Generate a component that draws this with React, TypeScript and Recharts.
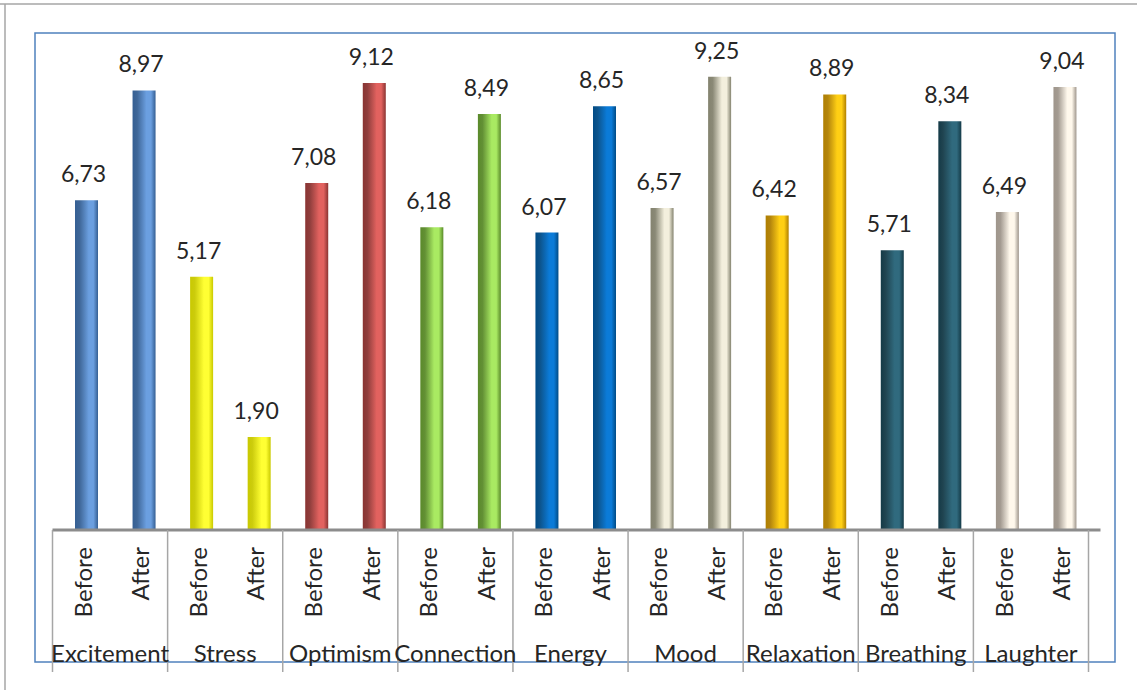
import React from 'react';
import { BarChart, Bar, XAxis, YAxis, Cell, LabelList } from 'recharts';

const groups = ['Excitement', 'Stress', 'Optimism', 'Connection', 'Energy', 'Mood', 'Relaxation', 'Breathing', 'Laughter'];
const phases = ['Before', 'After'];
const beforeValues = [6.73, 5.17, 7.08, 6.18, 6.07, 6.57, 6.42, 5.71, 6.49];
const afterValues = [8.97, 1.9, 9.12, 8.49, 8.65, 9.25, 8.89, 8.34, 9.04];

// per-group colour ramps: [dark edge, light centre]
const groupColors: [string, string][] = [
  ['#355f93', '#6b9fe0'],
  ['#c9c900', '#ffff33'],
  ['#8a3432', '#e2625f'],
  ['#5a8a2a', '#a9ea62'],
  ['#004b86', '#0b7bd8'],
  ['#84836f', '#f3efdd'],
  ['#b07f00', '#ffcf14'],
  ['#143a47', '#306a7e'],
  ['#9f968c', '#fff8ec'],
];

const data = groups.flatMap((g, gi) => [
  { key: `${g}-${phases[0]}`, group: g, phase: phases[0], value: beforeValues[gi], gi },
  { key: `${g}-${phases[1]}`, group: g, phase: phases[1], value: afterValues[gi], gi },
]);

const FONT = 'Lato, "Open Sans", sans-serif';
const TEXT = '#262626';
const SEP = '#a6a6a6';
const SHIFT = -5.5;

const PhaseTick = (props: any) => {
  const { x, y, payload, index } = props;
  const half = payload && typeof payload.offset === 'number' && payload.offset > 0 ? payload.offset : 28.8;
  const row = data[index];
  const els: React.ReactNode[] = [];
  if (index === 0) {
    els.push(
      <line key="axis" x1={x - half + SHIFT} x2={x - half + SHIFT + data.length * 2 * half + 12} y1={y} y2={y} stroke="#8c8c8c" strokeWidth={3} />
    );
  }
  if (index % 2 === 0) {
    els.push(<line key="sep" x1={x - half + SHIFT} x2={x - half + SHIFT} y1={y} y2={y + 142} stroke={SEP} strokeWidth={1.5} />);
  }
  if (index === data.length - 1) {
    els.push(<line key="sepEnd" x1={x + half + SHIFT} x2={x + half + SHIFT} y1={y} y2={y + 142} stroke={SEP} strokeWidth={1.5} />);
  }
  els.push(
    <text
      key="t"
      x={x + 5}
      y={y + 17}
      transform={`rotate(-90 ${x + 5} ${y + 17})`}
      textAnchor="end"
      fontSize={24}
      fontFamily={FONT}
      fill={TEXT}
    >
      {row ? row.phase : ''}
    </text>
  );
  return <g>{els}</g>;
};

const GroupTick = (props: any) => {
  const { x, y, payload, index } = props;
  if (index % 2 !== 0) return <g />;
  const half = payload && typeof payload.offset === 'number' && payload.offset > 0 ? payload.offset : 28.8;
  const row = data[index];
  return (
    <text x={x + half + SHIFT} y={y + 37} textAnchor="middle" fontSize={24} fontFamily={FONT} fill={TEXT}>
      {row ? row.group : ''}
    </text>
  );
};

const fmt = (v: any) => Number(v).toFixed(2).replace('.', ',');

export default function App() {
  return (
    <div style={{ position: 'absolute', left: 0, top: 0, width: 1137, height: 690, background: '#fff' }}>
      <svg width={1137} height={690} style={{ position: 'absolute', left: 0, top: 0, pointerEvents: 'none' }}>
        <line x1={0} x2={1137} y1={4} y2={4} stroke="#a6a6a6" strokeWidth={1.5} />
        <line x1={5} x2={5} y1={4} y2={690} stroke="#a6a6a6" strokeWidth={1.5} />
        <rect x={35} y={33} width={1080} height={629} fill="none" stroke="#4f81bd" strokeWidth={1.5} />
      </svg>
      <div style={{ position: 'absolute', left: 0, top: 0 }}>
        <BarChart width={1137} height={690} data={data} margin={{ top: 40, right: 43, left: 58, bottom: 0 }} barCategoryGap={0}>
          <defs>
            {groupColors.map(([dark, light], i) => (
              <linearGradient key={i} id={`grad-${i}`} x1="0" y1="0" x2="1" y2="0">
                <stop offset="0%" stopColor={dark} />
                <stop offset="20%" stopColor={dark} stopOpacity={0.95} />
                <stop offset="60%" stopColor={light} />
                <stop offset="80%" stopColor={light} />
                <stop offset="100%" stopColor={dark} />
              </linearGradient>
            ))}
          </defs>
          <YAxis hide domain={[0, 10]} />
          <XAxis
            dataKey="key"
            interval={0}
            height={95}
            axisLine={false}
            tickLine={false}
            tickSize={0}
            tickMargin={0}
            tick={<PhaseTick />}
          />
          <XAxis
            xAxisId="grp"
            dataKey="key"
            interval={0}
            height={65}
            axisLine={false}
            tickLine={false}
            tickSize={0}
            tickMargin={0}
            tick={<GroupTick />}
          />
          <Bar dataKey="value" barSize={23} isAnimationActive={false}>
            {data.map((d, i) => (
              <Cell key={i} fill={`url(#grad-${d.gi})`} />
            ))}
            <LabelList
              dataKey="value"
              position="top"
              offset={18}
              dx={-3}
              formatter={fmt}
              style={{ fontSize: 23, fontFamily: FONT, fill: TEXT }}
            />
          </Bar>
        </BarChart>
      </div>
    </div>
  );
}
